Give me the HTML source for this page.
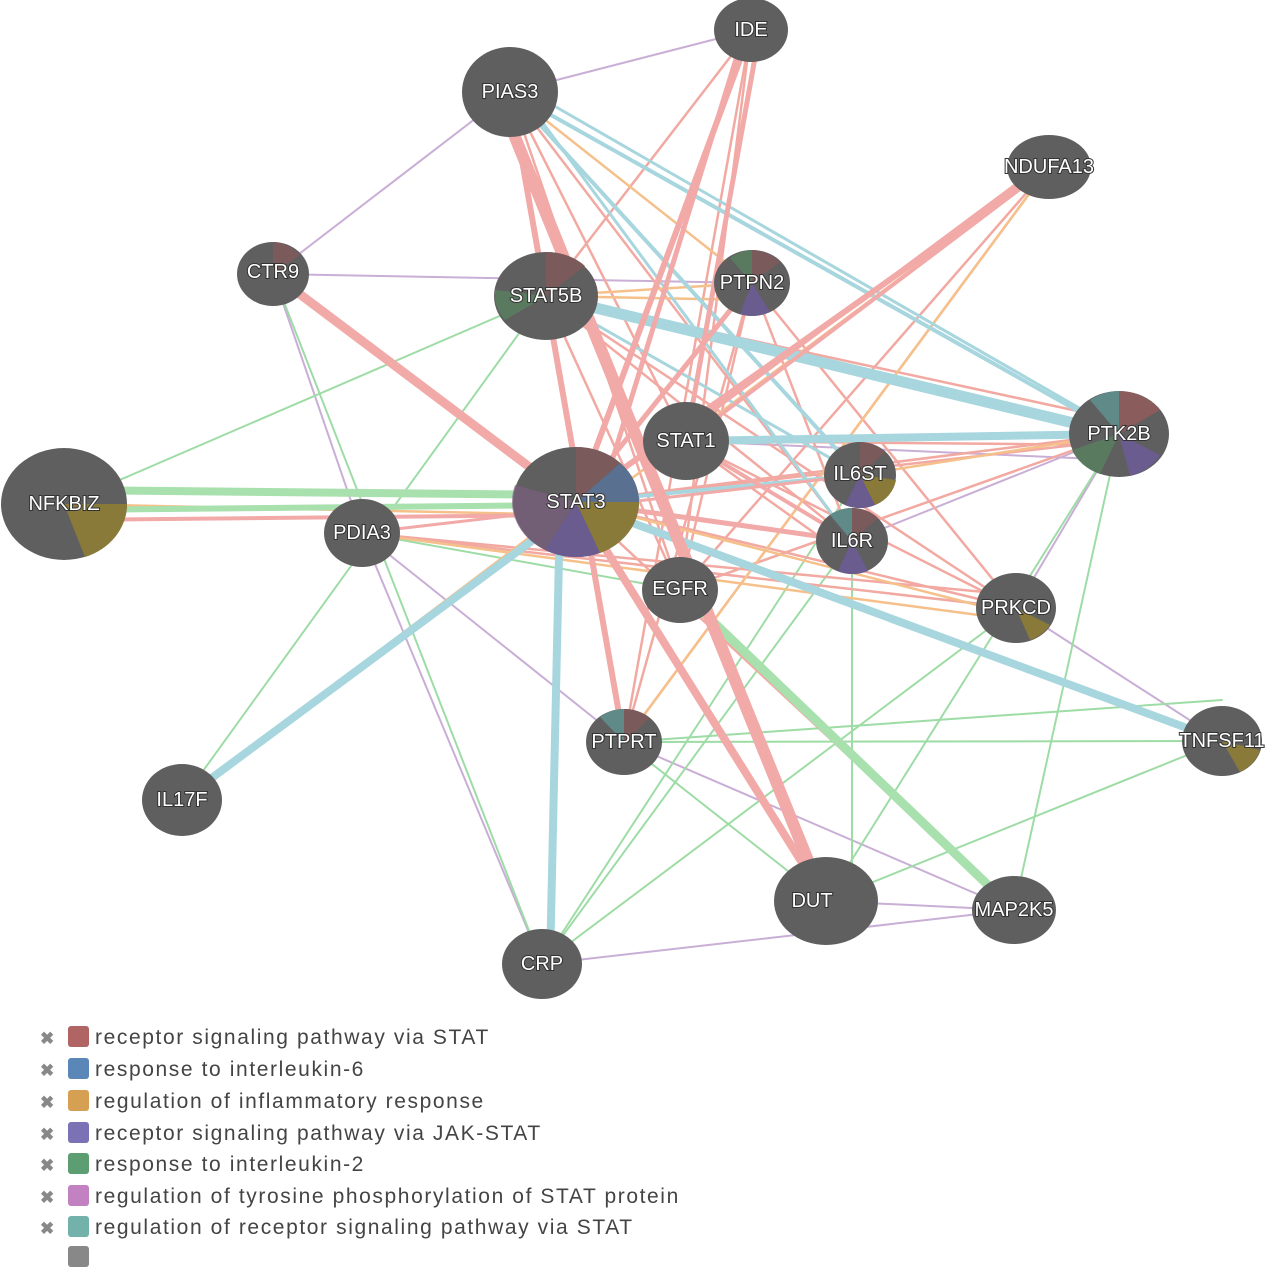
<!DOCTYPE html>
<html><head><meta charset="utf-8"><style>
body{margin:0;background:#fff;width:1280px;height:1251px;overflow:hidden;font-family:"Liberation Sans",sans-serif}
svg{position:absolute;left:0;top:0}
.n{fill:#5f5f5f}
.t{fill:#fff;font-size:20px;text-anchor:middle;dominant-baseline:central;font-family:"Liberation Sans",sans-serif}
.leg{position:absolute;left:40px;font-size:21px;color:#444;line-height:22px;letter-spacing:1.6px;white-space:nowrap}
.leg span.x{color:#888;font-weight:bold;font-size:17px;display:inline-block;width:28px;letter-spacing:0}
.leg span.s{display:inline-block;width:21px;height:21px;border-radius:3px;vertical-align:-3px;margin-right:6px}
</style></head><body>
<svg width="1280" height="1251">
<g fill="none" stroke-linecap="round">
<g stroke="#c9aed6" stroke-width="2">
<line x1="510" y1="92" x2="751" y2="30"/><line x1="273" y1="274" x2="510" y2="92"/>
<line x1="273" y1="274" x2="362" y2="533"/><line x1="362" y1="533" x2="542" y2="964"/>
<line x1="362" y1="533" x2="624" y2="742"/><line x1="542" y1="964" x2="1014" y2="910"/>
<line x1="826" y1="901" x2="1014" y2="910"/><line x1="1119" y1="434" x2="1016" y2="608"/>
<line x1="1016" y1="608" x2="1222" y2="741"/><line x1="273" y1="274" x2="752" y2="283"/>
<line x1="624" y1="742" x2="1014" y2="910"/><line x1="1119" y1="434" x2="852" y2="541"/>
<line x1="273" y1="274" x2="576" y2="502"/><line x1="686" y1="441" x2="1119" y2="460"/>
</g>
<g stroke="#9edca6" stroke-width="2">
<line x1="64" y1="504" x2="546" y2="296"/><line x1="273" y1="274" x2="542" y2="964"/>
<line x1="182" y1="800" x2="546" y2="296"/><line x1="542" y1="964" x2="1016" y2="608"/>
<line x1="542" y1="964" x2="852" y2="541"/><line x1="624" y1="742" x2="1222" y2="741"/>
<line x1="826" y1="901" x2="1119" y2="434"/><line x1="852" y1="541" x2="852" y2="901"/>
<line x1="1014" y1="910" x2="1119" y2="434"/><line x1="624" y1="742" x2="1222" y2="700"/>
<line x1="362" y1="533" x2="680" y2="590"/><line x1="624" y1="742" x2="826" y2="901"/>
<line x1="826" y1="901" x2="1222" y2="741"/><line x1="542" y1="964" x2="860" y2="475"/>
<line x1="273" y1="274" x2="576" y2="502"/><line x1="576" y1="502" x2="1016" y2="608"/>
</g>
<g stroke="#f2a9a2" stroke-width="2.5">
<line x1="362" y1="533" x2="1016" y2="608"/><line x1="362" y1="533" x2="860" y2="475"/>
<line x1="546" y1="296" x2="1016" y2="608"/><line x1="546" y1="296" x2="860" y2="475"/>
<line x1="576" y1="502" x2="1016" y2="608"/><line x1="686" y1="441" x2="1016" y2="608"/>
<line x1="752" y1="283" x2="624" y2="742"/><line x1="752" y1="283" x2="680" y2="590"/>
<line x1="546" y1="296" x2="852" y2="541"/><line x1="510" y1="92" x2="852" y2="541"/>
<line x1="751" y1="30" x2="624" y2="742"/><line x1="751" y1="30" x2="680" y2="590"/>
<line x1="1119" y1="434" x2="576" y2="502"/><line x1="1119" y1="434" x2="680" y2="590"/>
<line x1="576" y1="502" x2="1014" y2="910"/><line x1="1049" y1="167" x2="680" y2="590"/>
<line x1="546" y1="296" x2="1119" y2="420"/><line x1="510" y1="92" x2="686" y2="441"/>
<line x1="752" y1="283" x2="1016" y2="608"/><line x1="752" y1="283" x2="852" y2="541"/>
<line x1="686" y1="441" x2="1119" y2="445"/><line x1="576" y1="502" x2="1119" y2="440"/>
<line x1="546" y1="296" x2="680" y2="590"/><line x1="510" y1="92" x2="680" y2="590"/>
<line x1="751" y1="30" x2="546" y2="296"/><line x1="362" y1="533" x2="1016" y2="595"/>
<line x1="624" y1="742" x2="1049" y2="167"/><line x1="686" y1="441" x2="852" y2="560"/>
</g>
<g stroke="#f5c08a" stroke-width="2.5">
<line x1="546" y1="296" x2="752" y2="283"/><line x1="1049" y1="167" x2="624" y2="742"/>
<line x1="182" y1="800" x2="576" y2="502"/><line x1="362" y1="533" x2="1016" y2="620"/>
<line x1="64" y1="504" x2="576" y2="515"/><line x1="860" y1="475" x2="1119" y2="434"/>
<line x1="510" y1="92" x2="752" y2="283"/><line x1="1049" y1="167" x2="576" y2="520"/>
<line x1="546" y1="296" x2="752" y2="300"/><line x1="576" y1="502" x2="1016" y2="615"/>
</g>
<g stroke="#a7d6de">
<line x1="546" y1="296" x2="1119" y2="434" stroke-width="11"/>
<line x1="576" y1="502" x2="1222" y2="741" stroke-width="8"/>
<line x1="182" y1="800" x2="560" y2="520" stroke-width="8"/>
<line x1="560" y1="510" x2="550" y2="964" stroke-width="8"/>
<line x1="686" y1="441" x2="1119" y2="434" stroke-width="8"/>
<line x1="510" y1="92" x2="860" y2="475" stroke-width="4"/>
<line x1="510" y1="92" x2="1119" y2="434" stroke-width="4"/>
<line x1="520" y1="92" x2="852" y2="541" stroke-width="3"/>
<line x1="576" y1="502" x2="860" y2="475" stroke-width="4"/>
<line x1="530" y1="92" x2="1100" y2="420" stroke-width="3"/>
<line x1="546" y1="296" x2="860" y2="475" stroke-width="3"/>
</g>
<g stroke="#a8e0ae">
<line x1="64" y1="490" x2="576" y2="495" stroke-width="8"/>
<line x1="64" y1="510" x2="576" y2="505" stroke-width="6"/>
<line x1="680" y1="590" x2="1014" y2="910" stroke-width="9"/>
</g>
<g stroke="#f2aaa8">
<line x1="500" y1="100" x2="820" y2="890" stroke-width="12"/>
<line x1="273" y1="274" x2="576" y2="502" stroke-width="9"/>
<line x1="576" y1="502" x2="826" y2="901" stroke-width="8"/>
<line x1="751" y1="30" x2="576" y2="502" stroke-width="6"/>
<line x1="745" y1="30" x2="600" y2="500" stroke-width="5"/>
<line x1="760" y1="30" x2="686" y2="441" stroke-width="5"/>
<line x1="510" y1="92" x2="624" y2="742" stroke-width="6"/>
<line x1="546" y1="296" x2="624" y2="742" stroke-width="5"/>
<line x1="1049" y1="167" x2="576" y2="502" stroke-width="6"/>
<line x1="1049" y1="167" x2="686" y2="441" stroke-width="4"/>
<line x1="1040" y1="167" x2="700" y2="420" stroke-width="4"/>
<line x1="752" y1="283" x2="576" y2="502" stroke-width="5"/>
<line x1="64" y1="520" x2="576" y2="515" stroke-width="4"/>
<line x1="362" y1="533" x2="860" y2="475" stroke-width="3"/>
<line x1="576" y1="502" x2="852" y2="541" stroke-width="5"/>
<line x1="686" y1="441" x2="852" y2="541" stroke-width="4"/>
</g>
</g>
<g>
<ellipse class="n" cx="751" cy="30" rx="37" ry="32"/>
<ellipse class="n" cx="510" cy="92" rx="48" ry="45"/>
<ellipse class="n" cx="1049" cy="167" rx="42" ry="32"/>
<ellipse class="n" cx="273" cy="274" rx="36" ry="32"/>
<ellipse class="n" cx="546" cy="296" rx="52" ry="44"/>
<ellipse class="n" cx="752" cy="283" rx="38" ry="33"/>
<ellipse class="n" cx="1119" cy="434" rx="50" ry="43"/>
<ellipse class="n" cx="686" cy="441" rx="43" ry="39"/>
<ellipse class="n" cx="860" cy="475" rx="36" ry="33"/>
<ellipse class="n" cx="64" cy="504" rx="63" ry="56"/>
<ellipse class="n" cx="576" cy="502" rx="63" ry="55"/>
<ellipse class="n" cx="362" cy="533" rx="38" ry="34"/>
<ellipse class="n" cx="852" cy="541" rx="36" ry="33"/>
<ellipse class="n" cx="680" cy="590" rx="38" ry="33"/>
<ellipse class="n" cx="1016" cy="608" rx="40" ry="35"/>
<ellipse class="n" cx="1222" cy="741" rx="40" ry="35"/>
<ellipse class="n" cx="624" cy="742" rx="38" ry="33"/>
<ellipse class="n" cx="182" cy="800" rx="40" ry="36"/>
<ellipse class="n" cx="826" cy="901" rx="52" ry="44"/>
<ellipse class="n" cx="1014" cy="910" rx="42" ry="34"/>
<ellipse class="n" cx="542" cy="964" rx="40" ry="35"/>
<path d="M576 502 L639 502 A63 55 0 0 1 600 553 Z" fill="#8a7a3a"/>
<path d="M576 502 L600 553 A63 55 0 0 1 545 550 Z" fill="#6a5c8e"/>
<path d="M576 502 L545 550 A63 55 0 0 1 515 485 Z" fill="#7a6080" opacity=".7"/>
<path d="M576 502 L620 463 A63 55 0 0 1 639 502 Z" fill="#5a7090"/>
<path d="M576 502 L576 447 A63 55 0 0 1 620 463 Z" fill="#7a5a5a"/>
<path d="M64 504 L127 504 A63 56 0 0 1 85 557 Z" fill="#8a7a3a"/>
<path d="M1119 434 L1119 391 A50 43 0 0 1 1160 410 Z" fill="#8a5c5c"/>
<path d="M1119 434 L1090 400 A50 43 0 0 1 1119 391 Z" fill="#5f8a88"/>
<path d="M1119 434 L1160 455 A50 43 0 0 1 1130 476 Z" fill="#6a5c8e"/>
<path d="M1119 434 L1100 474 A50 43 0 0 1 1072 450 Z" fill="#5a7a60"/>
<path d="M860 475 L896 480 A36 33 0 0 1 875 505 Z" fill="#8a7a3a"/>
<path d="M860 475 L875 505 A36 33 0 0 1 845 505 Z" fill="#6a5c8e"/>
<path d="M860 475 L860 442 A36 33 0 0 1 885 452 Z" fill="#7a5a5a"/>
<path d="M852 541 L852 508 A36 33 0 0 1 878 518 Z" fill="#7a5a5a"/>
<path d="M852 541 L830 515 A36 33 0 0 1 852 508 Z" fill="#5f8a88"/>
<path d="M852 541 L868 571 A36 33 0 0 1 838 571 Z" fill="#6a5c8e"/>
<path d="M546 296 L546 252 A52 44 0 0 1 585 266 Z" fill="#7a5a5a"/>
<path d="M546 296 L505 320 A52 44 0 0 1 495 290 Z" fill="#5a7a60"/>
<path d="M752 283 L752 250 A38 33 0 0 1 780 262 Z" fill="#7a5a5a"/>
<path d="M752 283 L770 312 A38 33 0 0 1 740 314 Z" fill="#6a5c8e"/>
<path d="M752 283 L730 258 A38 33 0 0 1 752 250 Z" fill="#5a7a60"/>
<path d="M273 274 L273 242 A36 32 0 0 1 300 255 Z" fill="#7a5a5a"/>
<path d="M624 742 L624 709 A38 33 0 0 1 650 718 Z" fill="#7a5a5a"/>
<path d="M624 742 L600 717 A38 33 0 0 1 624 709 Z" fill="#5f8a88"/>
<path d="M1016 608 L1050 625 A40 35 0 0 1 1030 640 Z" fill="#8a7a3a"/>
<path d="M1222 741 L1260 750 A40 35 0 0 1 1240 772 Z" fill="#8a7a3a"/>
</g>
<g style="paint-order:stroke;stroke:#333;stroke-width:2px">
<text class="t" x="751" y="30">IDE</text>
<text class="t" x="510" y="92">PIAS3</text>
<text class="t" x="1049" y="167">NDUFA13</text>
<text class="t" x="273" y="272">CTR9</text>
<text class="t" x="546" y="296">STAT5B</text>
<text class="t" x="752" y="283">PTPN2</text>
<text class="t" x="1119" y="434">PTK2B</text>
<text class="t" x="686" y="441">STAT1</text>
<text class="t" x="860" y="474">IL6ST</text>
<text class="t" x="64" y="504">NFKBIZ</text>
<text class="t" x="576" y="502">STAT3</text>
<text class="t" x="362" y="533">PDIA3</text>
<text class="t" x="852" y="541">IL6R</text>
<text class="t" x="680" y="589">EGFR</text>
<text class="t" x="1016" y="608">PRKCD</text>
<text class="t" x="1222" y="741">TNFSF11</text>
<text class="t" x="624" y="742">PTPRT</text>
<text class="t" x="182" y="800">IL17F</text>
<text class="t" x="812" y="901">DUT</text>
<text class="t" x="1014" y="910">MAP2K5</text>
<text class="t" x="542" y="964">CRP</text>
</g>
</svg>
<div class="leg" style="top:1026px"><span class="x">✖</span><span class="s" style="background:#b06464"></span>receptor signaling pathway via STAT</div>
<div class="leg" style="top:1058px"><span class="x">✖</span><span class="s" style="background:#5b86b8"></span>response to interleukin-6</div>
<div class="leg" style="top:1090px"><span class="x">✖</span><span class="s" style="background:#d6a052"></span>regulation of inflammatory response</div>
<div class="leg" style="top:1122px"><span class="x">✖</span><span class="s" style="background:#7a72b4"></span>receptor signaling pathway via JAK-STAT</div>
<div class="leg" style="top:1153px"><span class="x">✖</span><span class="s" style="background:#5c9e72"></span>response to interleukin-2</div>
<div class="leg" style="top:1185px"><span class="x">✖</span><span class="s" style="background:#c282c2"></span>regulation of tyrosine phosphorylation of STAT protein</div>
<div class="leg" style="top:1216px"><span class="x">✖</span><span class="s" style="background:#72b2aa"></span>regulation of receptor signaling pathway via STAT</div>
<div class="leg" style="top:1246px"><span class="x"></span><span class="s" style="background:#888"></span></div>
</body></html>
